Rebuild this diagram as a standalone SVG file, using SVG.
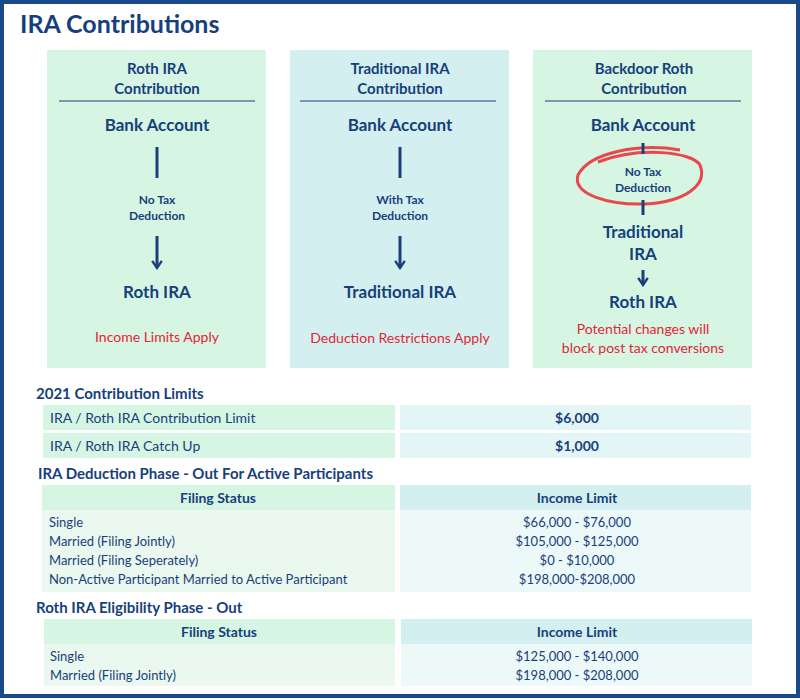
<svg xmlns="http://www.w3.org/2000/svg" width="800" height="700" viewBox="0 0 800 700">
<style>
text{font-family:Lato,"Liberation Sans",sans-serif;fill:#173f7c}
.b{font-weight:bold}
.c{text-anchor:middle}
.red{fill:#e32636}
.h{font-size:15px;font-weight:bold}
.big{font-size:17px;font-weight:bold}
.sm{font-size:12px;font-weight:bold}
.row{font-size:13px}
.g{fill:#d6f5e3}.t{fill:#d4eff0}.gl{fill:#eaf8ef}.tl{fill:#edf8f9}
</style>
<defs><marker id="ar" viewBox="0 0 10 10" refX="8" refY="5" markerWidth="4" markerHeight="4" orient="auto"><path d="M2,1 L8,5 L2,9" fill="none" stroke="#1a3f7a" stroke-width="2"/></marker></defs>
<rect x="2" y="2" width="796" height="694" fill="#fff" stroke="#1a4a8a" stroke-width="4"/>
<text x="20" y="33" style="font-size:25px;font-weight:bold">IRA Contributions</text>
<g id="roth"><rect x="47" y="50" width="219" height="318" class="g"/>
<text x="157" y="74" class="c h">Roth IRA</text><text x="157" y="94" class="c h">Contribution</text>
<line x1="59" y1="101" x2="255" y2="101" stroke="#1a3f7a"/>
<text x="157" y="131" class="c big">Bank Account</text>
<text x="157" y="204" class="c sm">No Tax</text><text x="157" y="220" class="c sm">Deduction</text>
<text x="157" y="298" class="c big">Roth IRA</text>
<text x="157" y="342" class="c red" font-size="14">Income Limits Apply</text></g>
<g id="trad"><rect x="290" y="50" width="219" height="318" class="t"/>
<text x="400" y="74" class="c h">Traditional IRA</text><text x="400" y="94" class="c h">Contribution</text>
<line x1="300" y1="101" x2="496" y2="101" stroke="#1a3f7a"/>
<text x="400" y="131" class="c big">Bank Account</text>
<text x="400" y="204" class="c sm">With Tax</text><text x="400" y="220" class="c sm">Deduction</text>
<text x="400" y="298" class="c big">Traditional IRA</text>
<text x="400" y="343" class="c red" font-size="14">Deduction Restrictions Apply</text></g>
<g id="backdoor"><rect x="533" y="50" width="219" height="318" class="g"/>
<text x="644" y="74" class="c h">Backdoor Roth</text><text x="644" y="94" class="c h">Contribution</text>
<line x1="545" y1="101" x2="741" y2="101" stroke="#1a3f7a"/>
<text x="643" y="131" class="c big">Bank Account</text>
<text x="643" y="176" class="c sm">No Tax</text><text x="643" y="192" class="c sm">Deduction</text>
<path d="M680,150 C640,143 590,152 578,175 C572,195 610,205 645,204 C685,202 708,185 700,165 C692,152 640,146 598,162" fill="none" stroke="#e8474b" stroke-width="3"/>
<text x="643" y="238" class="c big">Traditional</text><text x="643" y="260" class="c big">IRA</text>
<text x="643" y="308" class="c big">Roth IRA</text>
<text x="643" y="334" class="c red" font-size="14">Potential changes will</text>
<text x="643" y="353" class="c red" font-size="14">block post tax conversions</text></g>
<g id="connectors" stroke="#1a3f7a" stroke-width="3" fill="none">
<line x1="157" y1="147" x2="157" y2="178"/>
<line x1="157" y1="236" x2="157" y2="268" marker-end="url(#ar)"/>
<line x1="400" y1="147" x2="400" y2="178"/>
<line x1="400" y1="236" x2="400" y2="268" marker-end="url(#ar)"/>
<line x1="643" y1="143" x2="643" y2="154"/>
<line x1="643" y1="200" x2="643" y2="215"/>
<line x1="643" y1="270" x2="643" y2="285" marker-end="url(#ar)"/>
</g>
<g id="limits">
<text x="36" y="399" class="h">2021 Contribution Limits</text>
<rect x="43" y="405" width="352" height="25" class="g"/><rect x="400" y="405" width="351" height="25" class="t" style="fill:#e3f5f5"/>
<rect x="43" y="433" width="352" height="25" class="g"/><rect x="400" y="433" width="351" height="25" class="t" style="fill:#e3f5f5"/>
<text x="50" y="423" font-size="14">IRA / Roth IRA Contribution Limit</text><text x="577" y="423" class="c b" font-size="14">$6,000</text>
<text x="50" y="451" font-size="14">IRA / Roth IRA Catch Up</text><text x="577" y="451" class="c b" font-size="14">$1,000</text>
</g>
<g id="deduction">
<text x="38" y="479" class="h">IRA Deduction Phase - Out For Active Participants</text>
<rect x="42" y="485" width="353" height="25" class="g"/><rect x="400" y="485" width="351" height="25" class="t"/>
<rect x="42" y="510" width="353" height="82" class="gl"/><rect x="400" y="510" width="351" height="82" class="tl"/>
<text x="218" y="503" class="c b" font-size="14">Filing Status</text><text x="577" y="503" class="c b" font-size="14">Income Limit</text>
<text x="49" y="527" class="row">Single</text><text x="577" y="527" class="c row">$66,000 - $76,000</text>
<text x="49" y="546" class="row">Married (Filing Jointly)</text><text x="577" y="546" class="c row">$105,000 - $125,000</text>
<text x="49" y="565" class="row">Married (Filing Seperately)</text><text x="577" y="565" class="c row">$0 - $10,000</text>
<text x="49" y="584" class="row">Non-Active Participant Married to Active Participant</text><text x="577" y="584" class="c row">$198,000-$208,000</text>
</g>
<g id="roth-elig">
<text x="36" y="613" class="h">Roth IRA Eligibility Phase - Out</text>
<rect x="44" y="619" width="351" height="25" class="g"/><rect x="401" y="619" width="351" height="25" class="t"/>
<rect x="44" y="644" width="351" height="42" class="gl"/><rect x="401" y="644" width="351" height="42" class="tl"/>
<text x="219" y="637" class="c b" font-size="14">Filing Status</text><text x="577" y="637" class="c b" font-size="14">Income Limit</text>
<text x="50" y="661" class="row">Single</text><text x="577" y="661" class="c row">$125,000 - $140,000</text>
<text x="50" y="680" class="row">Married (Filing Jointly)</text><text x="577" y="680" class="c row">$198,000 - $208,000</text>
</g>
</svg>
